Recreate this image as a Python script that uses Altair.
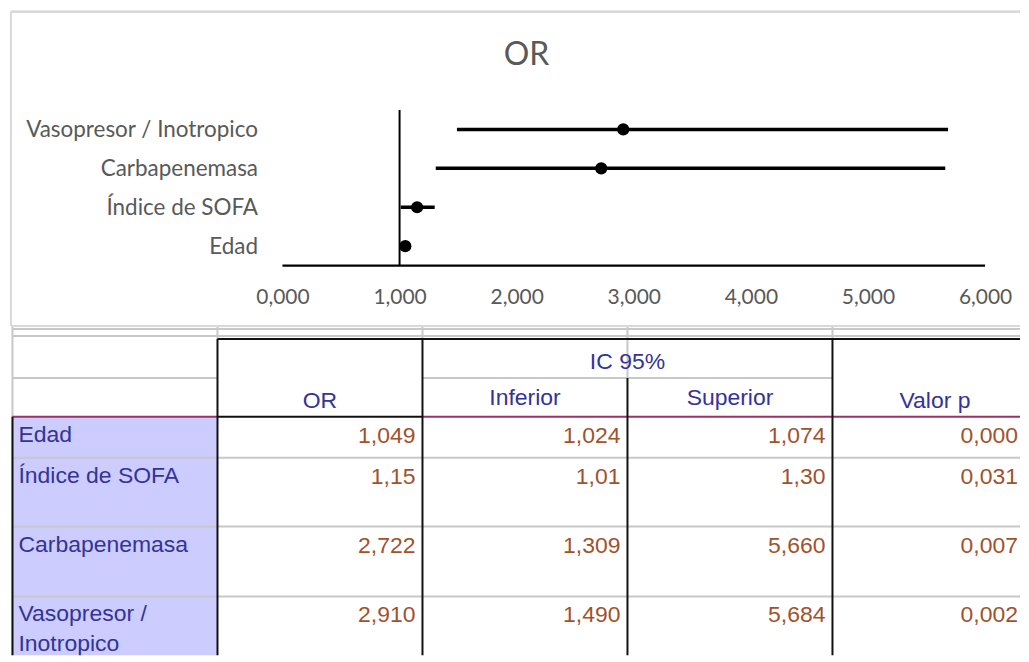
import altair as alt
import pandas as pd

# ---------------- data ----------------
variables = ["Edad", "Índice de SOFA", "Carbapenemasa", "Vasopresor / Inotropico"]
odds_ratio = [1.049, 1.15, 2.722, 2.910]
ci_lower = [1.024, 1.01, 1.309, 1.490]
ci_upper = [1.074, 1.30, 5.660, 5.684]
x_ticks = [0, 1, 2, 3, 4, 5, 6]
reference_or = 1
chart_title = "OR"

table_labels = ["Edad", "Índice de SOFA", "Carbapenemasa", "Vasopresor /\nInotropico"]
or_labels = ["1,049", "1,15", "2,722", "2,910"]
lower_labels = ["1,024", "1,01", "1,309", "1,490"]
upper_labels = ["1,074", "1,30", "5,660", "5,684"]
p_labels = ["0,000", "0,031", "0,007", "0,002"]
header_main = ["OR", "IC 95%", "Valor p"]
header_sub = ["Inferior", "Superior"]

# ---------------- layout ----------------
W = 1011
H_TOP = 315
X0_PX = 272.0            # pixel of OR = 0 inside the top panel
X_UNIT = 704.0 / 6.0     # pixels per OR unit
Y1_PX = 235.0            # pixel of first row (Edad)
Y_UNIT = 39.0            # row spacing
y0_px = Y1_PX + Y_UNIT
fx_domain = [(0 - X0_PX) / X_UNIT, (W - X0_PX) / X_UNIT]
fy_domain = [(y0_px - H_TOP) / Y_UNIT, y0_px / Y_UNIT]

GRAY_TXT = "#595959"
FONT_TOP = "Lato"

# ---------------- forest plot ----------------
n = len(variables)
forest_df = pd.DataFrame({
    "pos": list(range(1, n + 1)),
    "var": variables,
    "or": odds_ratio,
    "lo": ci_lower,
    "hi": ci_upper,
})
axis_y_val = 0.5
ref_df = pd.DataFrame({"x": [reference_or], "y": [axis_y_val], "y2": [n + 0.5]})
axisline_df = pd.DataFrame({"x": [x_ticks[0]], "x2": [x_ticks[-1]], "y": [axis_y_val]})

fx = alt.Scale(domain=fx_domain, nice=False, zero=False)
fy = alt.Scale(domain=fy_domain, nice=False, zero=False)

label_js = "[" + ",".join(["''"] + ["'" + v + "'" for v in variables]) + "]"
axis_px = y0_px - axis_y_val * Y_UNIT

x_axis = alt.Axis(
    values=x_ticks, title=None, grid=False, domain=False, ticks=False, tickSize=0,
    labelExpr="replace(format(datum.value, '.3f'), '.', ',')",
    labelFont=FONT_TOP, labelFontSize=21, labelColor=GRAY_TXT,
    labelPadding=21, offset=-(H_TOP - axis_px), labelOverlap=False,
)
y_axis = alt.Axis(
    values=list(range(1, n + 1)), title=None, grid=False, domain=False, ticks=False, tickSize=0,
    labelExpr=label_js + "[datum.value]",
    labelFont=FONT_TOP, labelFontSize=22.5, labelColor=GRAY_TXT,
    labelPadding=0, labelLimit=500, labelAlign="right", labelBaseline="middle",
    offset=-247,
)

ci = alt.Chart(forest_df).mark_rule(color="black", strokeWidth=3.5).encode(
    x=alt.X("lo:Q", scale=fx, axis=x_axis),
    x2="hi:Q",
    y=alt.Y("pos:Q", scale=fy, axis=y_axis),
)
pts = alt.Chart(forest_df).mark_circle(color="black", size=150, opacity=1).encode(
    x=alt.X("or:Q", scale=fx, axis=x_axis),
    y=alt.Y("pos:Q", scale=fy, axis=y_axis),
)
ref_line = alt.Chart(ref_df).mark_rule(color="black", strokeWidth=2).encode(
    x=alt.X("x:Q", scale=fx, axis=x_axis),
    y=alt.Y("y:Q", scale=fy, axis=y_axis),
    y2="y2:Q",
)
axis_line = alt.Chart(axisline_df).mark_rule(color="black", strokeWidth=2.2).encode(
    x=alt.X("x:Q", scale=fx, axis=x_axis),
    x2="x2:Q",
    y=alt.Y("y:Q", scale=fy, axis=y_axis),
)

# light grey frame of the chart area (left, top, bottom sides; right side is off-screen)
frame_style = dict(color="#d9d9d9", strokeWidth=2)
frame_left = alt.Chart(forest_df).mark_rule(**frame_style).encode(
    x=alt.value(0), y=alt.value(0), y2=alt.value(H_TOP))
frame_top = alt.Chart(forest_df).mark_rule(**frame_style).encode(
    x=alt.value(0), x2=alt.value(W), y=alt.value(0))
frame_bot = alt.Chart(forest_df).mark_rule(**frame_style).encode(
    x=alt.value(0), x2=alt.value(W), y=alt.value(H_TOP))

forest = alt.layer(axis_line, ref_line, ci, pts, frame_left, frame_top, frame_bot).properties(
    width=W, height=H_TOP,
    title=alt.TitleParams(
        chart_title, font=FONT_TOP, fontSize=32, color=GRAY_TXT, fontWeight="normal",
        anchor="middle", frame="group", offset=-86, baseline="alphabetic", dx=11,
    ),
)

# ---------------- table ----------------
H_TAB = 329
COL0_PX = 1.5
COL_W = 205.4
tx_max = (W - COL0_PX) / COL_W
tx = alt.Scale(domain=[(0 - COL0_PX) / COL_W, tx_max], nice=False, zero=False)
ty = alt.Scale(domain=[0, H_TAB], reverse=True, nice=False, zero=False)

hdr_top = 12
hdr_heights = [39, 39]
row_heights = [41, 69, 70, 70]
hdr_mid = hdr_top + hdr_heights[0]
hdr_bot = hdr_mid + hdr_heights[1]
row_tops = [hdr_bot]
for h in row_heights[:-1]:
    row_tops.append(row_tops[-1] + h)
tab_bot = row_tops[-1] + row_heights[-1]
n_cols = 5

def seg_df(segs):
    return pd.DataFrame(segs, columns=["x", "x2", "y", "y2"])

gray_segs = [
    (0, n_cols, 2, 2), (0, n_cols, 9, 9),
    (0, 1, hdr_mid, hdr_mid), (2, 4, hdr_mid, hdr_mid),
    (1, 1, 0, hdr_top), (2, 2, 0, hdr_top), (3, 3, 0, hdr_mid), (4, 4, 0, hdr_top),
    (0, 0, 0, tab_bot),
] + [(0, n_cols, t, t) for t in row_tops[1:]]
purple_segs = [(0, 1, hdr_bot, hdr_bot), (2, n_cols, hdr_bot, hdr_bot)]
black_segs = [
    (1, n_cols, hdr_top, hdr_top),
    (1, 2, hdr_bot, hdr_bot),
    (1, 1, hdr_top, tab_bot), (2, 2, hdr_top, tab_bot),
    (3, 3, hdr_mid, tab_bot), (4, 4, hdr_top, tab_bot),
    (0, 0, hdr_bot, tab_bot),
]

def rules(segs, color, width):
    return alt.Chart(seg_df(segs)).mark_rule(color=color, strokeWidth=width, clip=True).encode(
        x=alt.X("x:Q", scale=tx, axis=None), x2="x2:Q",
        y=alt.Y("y:Q", scale=ty, axis=None), y2="y2:Q",
    )

fill_df = pd.DataFrame({"x": [0], "x2": [1], "y": [hdr_bot], "y2": [tab_bot]})
fill = alt.Chart(fill_df).mark_rect(color="#CCCCFF", clip=True).encode(
    x=alt.X("x:Q", scale=tx, axis=None), x2="x2:Q",
    y=alt.Y("y:Q", scale=ty, axis=None), y2="y2:Q",
)

TFONT = "Liberation Sans"
BLUE = "#333399"
BROWN = "#A0522D"

hdr_a = pd.DataFrame({"text": header_main, "x": [1.5, 3.0, 4.5], "y": [hdr_bot, hdr_mid, hdr_bot]})
hdr_b = pd.DataFrame({"text": header_sub, "x": [2.5, 3.5], "y": [hdr_bot, hdr_bot]})

def txt(df, color, align, dx, dy):
    return alt.Chart(df).mark_text(
        font=TFONT, fontSize=23, color=color, align=align, baseline="alphabetic",
        dx=dx, dy=dy, lineBreak="\n", lineHeight=30, clip=True,
    ).encode(
        x=alt.X("x:Q", scale=tx, axis=None),
        y=alt.Y("y:Q", scale=ty, axis=None),
        text="text:N",
    )

lab_df = pd.DataFrame({"text": table_labels, "x": [0] * n, "y": row_tops})
num_rows = []
for c, col in enumerate([or_labels, lower_labels, upper_labels]):
    for r, t in enumerate(col):
        num_rows.append({"x": c + 2, "y": row_tops[r], "text": t})
num_df = pd.DataFrame(num_rows)
# last column runs past the window: keep its values right-aligned on the visible edge
p_df = pd.DataFrame({"x": [tx_max] * n, "y": row_tops, "text": p_labels})

table = alt.layer(
    fill,
    rules(gray_segs, "#c8c8c8", 2),
    rules(purple_segs, "#993366", 2),
    rules(black_segs, "#111111", 2),
    txt(hdr_a, BLUE, "center", 0, -8.5),
    txt(hdr_b, BLUE, "center", 0, -12),
    txt(lab_df, BLUE, "left", 6, 25),
    txt(num_df, BROWN, "right", -7, 26),
    txt(p_df, BROWN, "right", -2, 26),
).properties(width=W, height=H_TAB)

chart = alt.vconcat(forest, table, spacing=0).properties(
    padding={"left": 2, "top": 2, "right": 0, "bottom": 0},
    background="white",
).configure_view(strokeWidth=0)

chart.save("out.html", embed_options={"renderer": "svg", "actions": False})
